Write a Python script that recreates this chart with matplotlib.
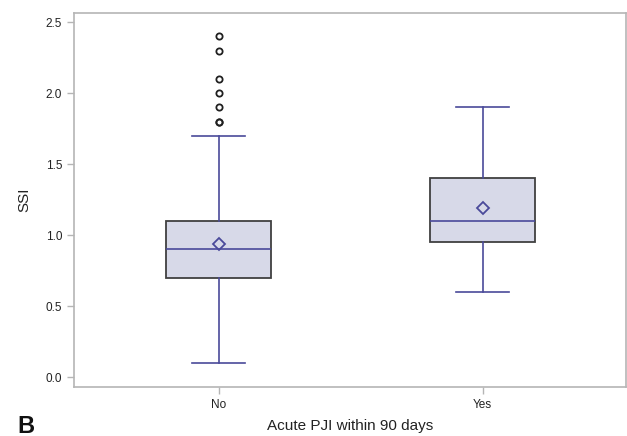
import matplotlib.pyplot as plt

plt.rcParams["font.family"] = ["Liberation Sans", "DejaVu Sans"]

groups = ["No", "Yes"]
q1 = [0.70, 0.95]
medians = [0.90, 1.10]
q3 = [1.10, 1.40]
means = [0.935, 1.19]
whislo = [0.10, 0.60]
whishi = [1.70, 1.90]
outliers = [[1.8, 1.8, 1.9, 2.0, 2.1, 2.3, 2.4], []]

stats = []
for i, g in enumerate(groups):
    stats.append({
        "label": g, "q1": q1[i], "med": medians[i], "q3": q3[i],
        "mean": means[i], "whislo": whislo[i], "whishi": whishi[i],
        "fliers": outliers[i],
    })

line_col = "#4a4a9a"
frame_col = "#b5b5b5"

fig = plt.figure(figsize=(6.27, 4.36), dpi=100)
ax = fig.add_axes([0.118, 0.1135, 0.880, 0.856])

ax.bxp(stats, positions=[0, 1], widths=0.40, patch_artist=True, showmeans=True,
       boxprops=dict(facecolor="#d7d9e8", edgecolor="#404040", linewidth=1.3),
       medianprops=dict(color=line_col, linewidth=1.2),
       whiskerprops=dict(color=line_col, linewidth=1.2),
       capprops=dict(color=line_col, linewidth=1.2),
       capwidths=0.20,
       meanprops=dict(marker="D", markerfacecolor="none", markeredgecolor=line_col,
                      markersize=6, markeredgewidth=1.3),
       flierprops=dict(marker="o", markerfacecolor="none", markeredgecolor="#202020",
                       markersize=4.5, markeredgewidth=1.3))

ax.set_xlim(-0.548, 1.542)
ax.set_ylim(-0.067, 2.563)
ax.set_yticks([0.0, 0.5, 1.0, 1.5, 2.0, 2.5])
ax.set_yticklabels(["0.0", "0.5", "1.0", "1.5", "2.0", "2.5"])
ax.set_xticks([0, 1])
ax.set_xticklabels(groups)

for s in ax.spines.values():
    s.set_color(frame_col)
    s.set_linewidth(1.2)
ax.tick_params(axis="both", colors=frame_col, labelcolor="#222222", labelsize=8.5,
               length=5, width=1)
ax.tick_params(axis="x", pad=4)

ax.set_ylabel("SSI", fontsize=11, color="#222222", labelpad=10)
ax.set_xlabel("Acute PJI within 90 days", fontsize=11, color="#222222", labelpad=6)

fig.text(0.028, 0.008, "B", fontsize=17, fontweight="bold", color="#111111")

fig.savefig("out.png", dpi=100)
